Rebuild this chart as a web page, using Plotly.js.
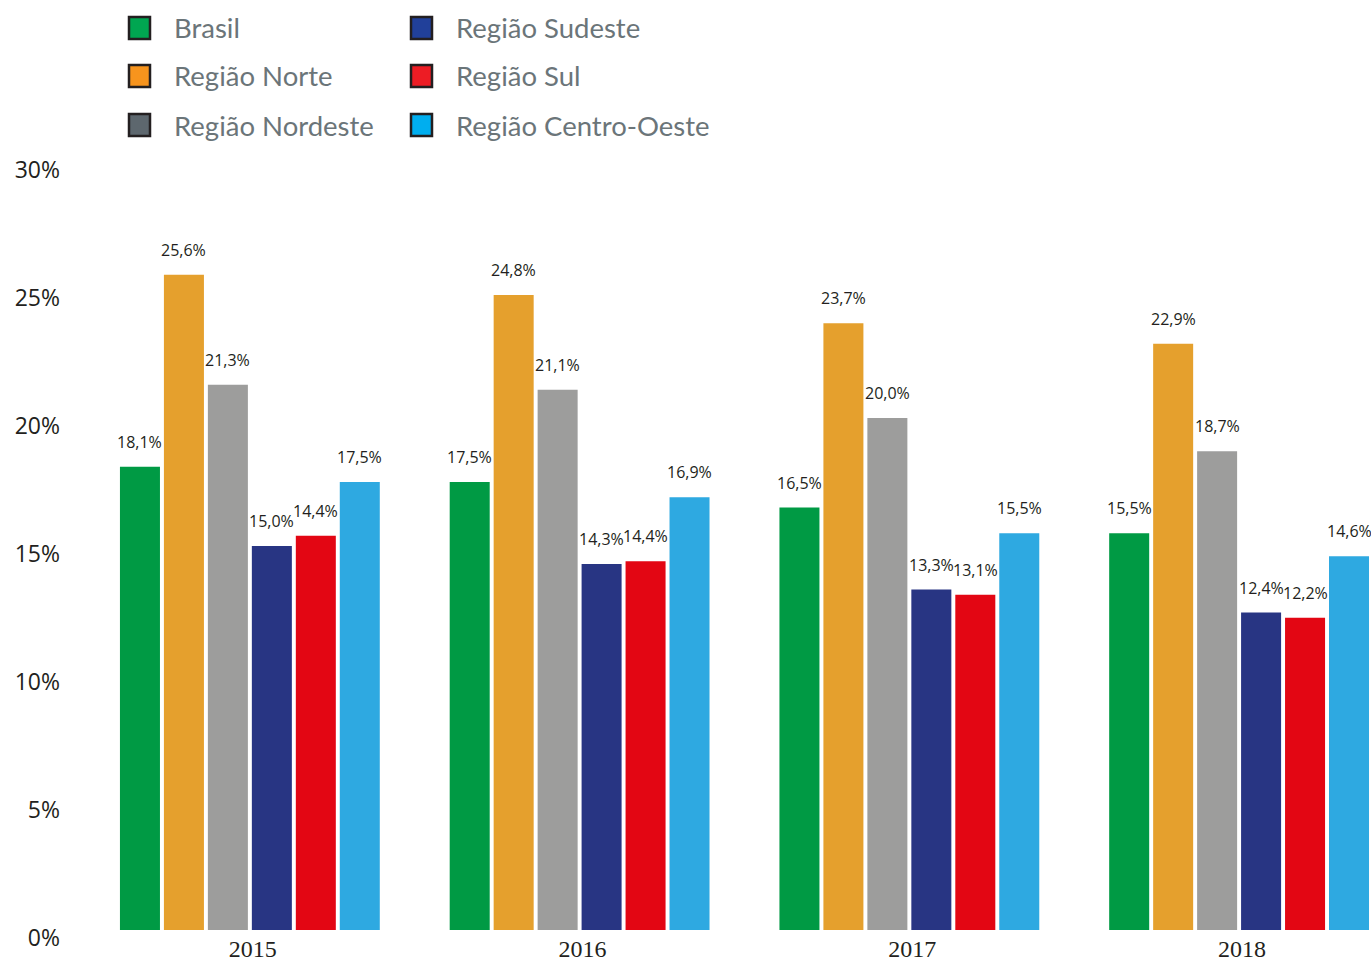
<!DOCTYPE html>
<html>
<head>
<meta charset="utf-8">
<script src="https://cdn.plot.ly/plotly-3.0.1.min.js"></script>
<style>html,body{margin:0;padding:0;background:#fff;}#chart{width:1371px;height:962px;}</style>
</head>
<body>
<div id="chart"></div>
<script>
// ---- data ----
const years = ['2015', '2016', '2017', '2018'];
const seriesNames = ['Brasil', 'Região Norte', 'Região Nordeste', 'Região Sudeste', 'Região Sul', 'Região Centro-Oeste'];
const brasil      = [18.1, 17.5, 16.5, 15.5];
const norte       = [25.6, 24.8, 23.7, 22.9];
const nordeste    = [21.3, 21.1, 20.0, 18.7];
const sudeste     = [15.0, 14.3, 13.3, 12.4];
const sul         = [15.4, 14.4, 13.1, 12.2];   // bar heights as drawn
const centroOeste = [17.5, 16.9, 15.5, 14.6];
// data labels as printed on the chart
const brasilLbl      = ['18,1%', '17,5%', '16,5%', '15,5%'];
const norteLbl       = ['25,6%', '24,8%', '23,7%', '22,9%'];
const nordesteLbl    = ['21,3%', '21,1%', '20,0%', '18,7%'];
const sudesteLbl     = ['15,0%', '14,3%', '13,3%', '12,4%'];
const sulLbl         = ['14,4%', '14,4%', '13,1%', '12,2%'];
const centroOesteLbl = ['17,5%', '16,9%', '15,5%', '14,6%'];
const yTicks = [0, 5, 10, 15, 20, 25, 30];

// ---- styles ----
const barColors = ['#009a44', '#e5a02d', '#9d9d9c', '#283583', '#e30613', '#2ea9e1'];
const legendColors = ['#00a651', '#f7941d', '#5d676e', '#21409a', '#ed1c24', '#00aeef'];
const values = [brasil, norte, nordeste, sudeste, sul, centroOeste];
const labels = [brasilLbl, norteLbl, nordesteLbl, sudesteLbl, sulLbl, centroOesteLbl];

const bargap = 0.2;
const nS = seriesNames.length;
const xIdx = years.map((_, i) => i);

const traces = values.map((v, j) => ({
  type: 'bar',
  name: seriesNames[j],
  x: xIdx,
  y: v,
  marker: { color: barColors[j], line: { width: 0 } },
  showlegend: false,
  hoverinfo: 'skip'
}));

// data labels
const annotations = [];
const slot = (1 - bargap) / nS;
values.forEach((v, j) => {
  v.forEach((val, i) => {
    annotations.push({
      x: i + (j - (nS - 1) / 2) * slot,
      y: val,
      xref: 'x', yref: 'y',
      text: labels[j][i],
      showarrow: false,
      yanchor: 'middle',
      yshift: 25,
      font: { family: 'Open Sans, sans-serif', size: 16, color: '#231f20' }
    });
  });
});

// manual legend (two columns, three rows)
const plotL = 85, plotR = 1371, plotT = 162, plotB = 930;
const px = X => (X - plotL) / (plotR - plotL);
const py = Y => (plotB - Y) / (plotB - plotT);
const shapes = [];
const colX = [128, 410];
const rowY = [28, 76, 125];
seriesNames.forEach((name, j) => {
  const c = Math.floor(j / 3), r = j % 3;
  const x0 = colX[c], yc = rowY[r];
  shapes.push({
    type: 'rect', xref: 'paper', yref: 'paper',
    x0: px(x0 + 1), x1: px(x0 + 22), y0: py(yc + 11), y1: py(yc - 11),
    fillcolor: legendColors[j],
    line: { color: '#231f20', width: 2.5 }
  });
  annotations.push({
    xref: 'paper', yref: 'paper',
    x: px(x0 + 44), y: py(yc),
    xanchor: 'left', yanchor: 'middle',
    text: name, showarrow: false,
    font: { family: 'Lato, sans-serif', size: 27.5, color: '#6b7579' }
  });
});

const layout = {
  width: 1371, height: 962,
  margin: { l: plotL, r: 1371 - plotR, t: plotT, b: 962 - plotB, pad: 0 },
  paper_bgcolor: '#ffffff', plot_bgcolor: '#ffffff',
  barmode: 'group', bargap: bargap, bargroupgap: 0.09,
  showlegend: false,
  xaxis: {
    range: [-0.5, 3.4],
    tickvals: xIdx, ticktext: years,
    showgrid: false, zeroline: false, showline: false, ticks: '',
    ticklabelstandoff: 2, ticklabelshift: 3,
    tickfont: { family: 'Liberation Serif, serif', size: 24, color: '#231f20' },
    fixedrange: true
  },
  yaxis: {
    range: [0, 30],
    tickvals: yTicks, ticktext: yTicks.map(t => t + '%'),
    showgrid: false, zeroline: false, showline: false, ticks: '',
    ticklabelstandoff: 24, ticklabelshift: 8,
    tickfont: { family: 'Open Sans, sans-serif', size: 23, color: '#231f20' },
    fixedrange: true
  },
  annotations: annotations,
  shapes: shapes
};

Plotly.newPlot('chart', traces, layout, { displayModeBar: false, staticPlot: true });
</script>
</body>
</html>
